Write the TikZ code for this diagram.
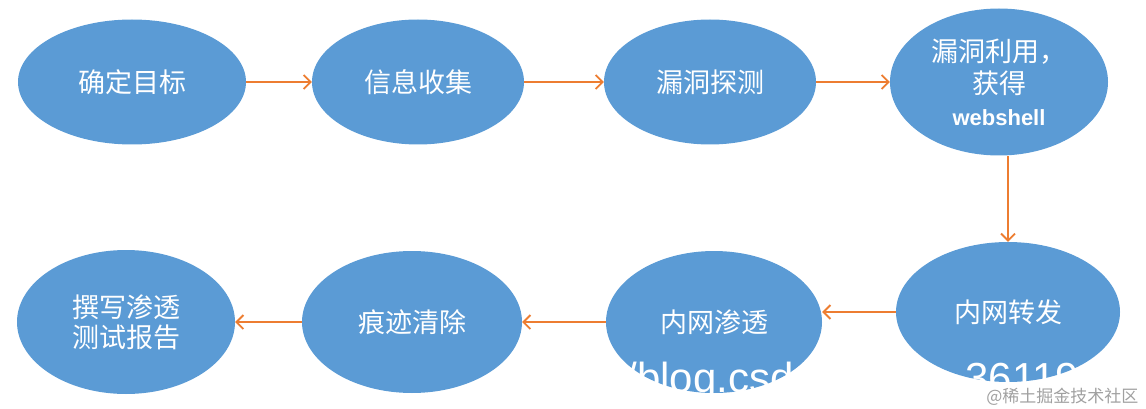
\documentclass[tikz,border=0pt]{standalone}
\usepackage{fontspec}
\setmainfont{Liberation Sans}
\newfontfamily\cjk{Noto Sans CJK SC}
\usetikzlibrary{arrows.meta,shapes.geometric}
\definecolor{stageblue}{HTML}{5B9BD5}
\definecolor{arrorange}{HTML}{ED7D31}
\definecolor{markgray}{HTML}{A0A0A0}

\begin{document}
\begin{tikzpicture}[x=1pt,y=-1pt,
 every node/.style={align=center,text=white},
 stage/.style={ellipse,fill=stageblue,inner sep=0pt,font=\cjk\fontsize{27}{30}\selectfont},
 arr/.style={-{Straight Barb[length=7pt,width=14pt]},draw=arrorange,line width=1.8pt},
 wmark/.style={font=\fontsize{42}{42}\selectfont,anchor=base west}]
 \useasboundingbox (0,0) rectangle (1146,409);
 % top row
 \node[stage,minimum width=228pt,minimum height=125pt] (aim) at (132,82) {确定目标};
 \node[stage,minimum width=212pt,minimum height=125pt] (info) at (418,82) {信息收集};
 \node[stage,minimum width=212pt,minimum height=125pt] (scan) at (710,82) {漏洞探测};
 \node[stage,minimum width=218pt,minimum height=147pt,font=\cjk\fontsize{27}{32}\selectfont] (exploit) at (999,82)
  {漏洞利用，\\获得\\{\rmfamily\bfseries\fontsize{22}{32}\selectfont webshell}};
 % bottom row
 \node[stage,minimum width=224pt,minimum height=140pt] (pivot) at (1008,312) {内网转发};
 \node[stage,minimum width=216pt,minimum height=142pt] (lateral) at (714,322) {内网渗透};
 \node[stage,minimum width=220pt,minimum height=142pt] (trace) at (412,322) {痕迹清除};
 \node[stage,minimum width=218pt,minimum height=144pt] (report) at (126,322) {撰写渗透\\测试报告};
 % watermarks
 \node[wmark] (wmblog) at (622,392) {/blog.csd};
 \node[wmark] (wmnum) at (962,392) {36119};
 \node[text=markgray,font=\cjk\fontsize{17}{17}\selectfont,anchor=east] (wmsite) at (1142,397) {@稀土掘金技术社区};
 \draw[arr] (aim)--(info);
 \draw[arr] (info)--(scan);
 \draw[arr] (scan)--(exploit);
 \draw[arr] (exploit.south -| pivot)--(pivot);
 \draw[arr] (pivot)--(pivot -| lateral.east);
 \draw[arr] (lateral)--(trace);
 \draw[arr] (trace)--(report);
\end{tikzpicture}
\end{document}
